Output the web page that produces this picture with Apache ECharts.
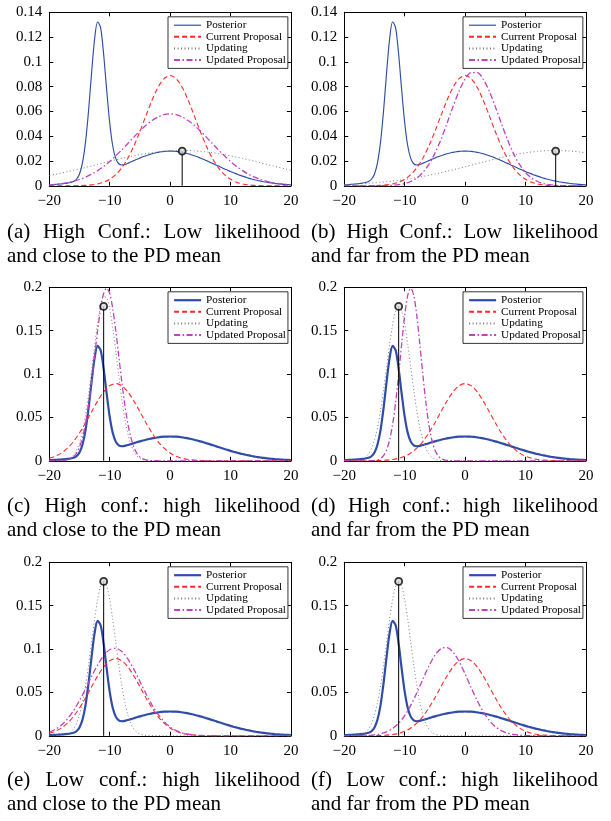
<!DOCTYPE html>
<html>
<head>
<meta charset="utf-8">
<script src="https://cdn.jsdelivr.net/npm/echarts@6/dist/echarts.min.js"></script>
<style>html,body{margin:0;padding:0;background:#fff}#main{width:611px;height:821px}</style>
</head>
<body>
<div id="main"></div>
<script>
// sample positions along the x axis
var xFine = [
  -20, -19.5, -19, -18.5, -18, -17.5, -17, -16.5, -16, -15.5,
  -15, -14.5, -14, -13.5, -13, -12.5, -12, -11.5, -11, -10.5,
  -10, -9.5, -9, -8.5, -8, -7.5, -7, -6.5, -6, -5.5,
  -5, -4.5, -4, -3.5, -3, -2.5, -2, -1.5, -1, -0.5,
  0, 0.5, 1, 1.5, 2, 2.5, 3, 3.5, 4, 4.5,
  5, 5.5, 6, 6.5, 7, 7.5, 8, 8.5, 9, 9.5,
  10, 10.5, 11, 11.5, 12, 12.5, 13, 13.5, 14, 14.5,
  15, 15.5, 16, 16.5, 17, 17.5, 18, 18.5, 19, 19.5,
  20
];
var xCoarse = [
  -20, -19, -18, -17, -16, -15, -14, -13, -12, -11,
  -10, -9, -8, -7, -6, -5, -4, -3, -2, -1,
  0, 1, 2, 3, 4, 5, 6, 7, 8, 9,
  10, 11, 12, 13, 14, 15, 16, 17, 18, 19,
  20
];

// posterior (same in every panel), on xFine
var posterior = [
  0.0008, 0.00095, 0.00113, 0.00134, 0.00157, 0.00184, 0.00218, 0.00263, 0.00346, 0.00529,
  0.00957, 0.0187, 0.0354, 0.0606, 0.0911, 0.1184, 0.1324, 0.1274, 0.106, 0.0773,
  0.0509, 0.0323, 0.0221, 0.0178, 0.0168, 0.0172, 0.0182, 0.0192, 0.0203, 0.0214,
  0.0224, 0.0234, 0.0243, 0.0251, 0.0259, 0.0265, 0.027, 0.0275, 0.0278, 0.0279,
  0.028, 0.0279, 0.0278, 0.0275, 0.027, 0.0265, 0.0259, 0.0251, 0.0243, 0.0234,
  0.0224, 0.0214, 0.0203, 0.0192, 0.0181, 0.017, 0.0159, 0.0147, 0.0136, 0.0126,
  0.0115, 0.0105, 0.0096, 0.0086, 0.0078, 0.007, 0.0062, 0.0055, 0.0049, 0.0043,
  0.0038, 0.0033, 0.0029, 0.0025, 0.0022, 0.0018, 0.0016, 0.0013, 0.0011, 0.001,
  0.0008
];

// current proposals, on xCoarse
var propCenter = [
  0, 0, 0, 0.00002, 0.00006, 0.00015, 0.00034, 0.00074, 0.0015, 0.00288,
  0.00523, 0.00896, 0.0145, 0.0222, 0.0321, 0.0438, 0.0566, 0.069, 0.0795, 0.0865,
  0.089, 0.0865, 0.0795, 0.069, 0.0566, 0.0438, 0.0321, 0.0222, 0.0145, 0.00896,
  0.00523, 0.00288, 0.0015, 0.00074, 0.00034, 0.00015, 0.00006, 0.00002, 0, 0,
  0
];
var propLeft = [
  0.00288, 0.00523, 0.00896, 0.0145, 0.0222, 0.0321, 0.0438, 0.0566, 0.069, 0.0795,
  0.0865, 0.089, 0.0865, 0.0795, 0.069, 0.0566, 0.0438, 0.0321, 0.0222, 0.0145,
  0.00896, 0.00523, 0.00288, 0.0015, 0.00074, 0.00034, 0.00015, 0.00006, 0.00002, 0,
  0, 0, 0, 0, 0, 0, 0, 0, 0, 0,
  0
];

// panel (a), on xCoarse
var updatingA = [
  0.00829, 0.00925, 0.01027, 0.01135, 0.01247, 0.01363, 0.01483, 0.01605, 0.01729, 0.01852,
  0.01974, 0.02093, 0.02208, 0.02318, 0.02421, 0.02515, 0.026, 0.02674, 0.02736, 0.02785,
  0.02821, 0.02843, 0.0285, 0.02843, 0.02821, 0.02785, 0.02736, 0.02674, 0.026, 0.02515,
  0.02421, 0.02318, 0.02208, 0.02093, 0.01974, 0.01852, 0.01729, 0.01605, 0.01483, 0.01363,
  0.01247
];
var updatedA = [
  0.00077, 0.00117, 0.00175, 0.00255, 0.00364, 0.00509, 0.00697, 0.00933, 0.01223, 0.01568,
  0.01967, 0.02416, 0.02903, 0.03414, 0.0393, 0.04427, 0.04878, 0.05262, 0.05555, 0.05738,
  0.058, 0.05738, 0.05555, 0.05262, 0.04878, 0.04427, 0.0393, 0.03414, 0.02903, 0.02416,
  0.01967, 0.01568, 0.01223, 0.00933, 0.00697, 0.00509, 0.00364, 0.00255, 0.00175, 0.00117,
  0.00077
];

// panel (b), on xCoarse
var updatingB = [
  0.00099, 0.00119, 0.00144, 0.00172, 0.00204, 0.00241, 0.00284, 0.00332, 0.00386, 0.00446,
  0.00513, 0.00587, 0.00668, 0.00756, 0.0085, 0.00951, 0.01058, 0.01172, 0.0129, 0.01412,
  0.01537, 0.01665, 0.01793, 0.0192, 0.02045, 0.02166, 0.02282, 0.02391, 0.02491, 0.02582,
  0.02661, 0.02727, 0.0278, 0.02819, 0.02842, 0.0285, 0.02842, 0.02819, 0.0278, 0.02727,
  0.02661
];
var updatedB = [
  0, 0, 0, 0, 0, 0.00003, 0.00007, 0.00018, 0.00041, 0.00088,
  0.0018, 0.00347, 0.00628, 0.01073, 0.01727, 0.02618, 0.03741, 0.05037, 0.0639, 0.07639,
  0.08605, 0.09132, 0.09132, 0.08605, 0.07639, 0.0639, 0.05037, 0.03741, 0.02618, 0.01727,
  0.01073, 0.00628, 0.00347, 0.0018, 0.00088, 0.00041, 0.00018, 0.00007, 0.00003, 0,
  0
];

// panel (c), on xFine
var updatingC = [
  0, 0.00001, 0.00004, 0.00011, 0.00029, 0.0007, 0.00156, 0.00328, 0.00646, 0.01201,
  0.02096, 0.03431, 0.05282, 0.0764, 0.10376, 0.13241, 0.15871, 0.17871, 0.18905, 0.18787,
  0.17539, 0.15382, 0.12673, 0.09808, 0.07131, 0.0487, 0.03126, 0.01883, 0.01066, 0.00568,
  0.00283, 0.00133, 0.00059, 0.00024, 0.00009, 0.00003, 0.00001, 0, 0, 0,
  0, 0, 0, 0, 0, 0, 0, 0, 0, 0,
  0, 0, 0, 0, 0, 0, 0, 0, 0, 0,
  0, 0, 0, 0, 0, 0, 0, 0, 0, 0,
  0, 0, 0, 0, 0, 0, 0, 0, 0, 0,
  0
];
var updatedC = [
  0, 0.00001, 0.00002, 0.00007, 0.00018, 0.00044, 0.00101, 0.00221, 0.00454, 0.00874,
  0.01584, 0.02693, 0.04308, 0.06462, 0.0911, 0.1207, 0.1502, 0.1756, 0.1929, 0.199,
  0.1929, 0.1756, 0.1502, 0.1207, 0.0911, 0.06462, 0.04308, 0.02693, 0.01584, 0.00874,
  0.00454, 0.00221, 0.00101, 0.00044, 0.00018, 0.00007, 0.00002, 0.00001, 0, 0,
  0, 0, 0, 0, 0, 0, 0, 0, 0, 0,
  0, 0, 0, 0, 0, 0, 0, 0, 0, 0,
  0, 0, 0, 0, 0, 0, 0, 0, 0, 0,
  0, 0, 0, 0, 0, 0, 0, 0, 0, 0,
  0
];

// updating curve of panels (d), (e), (f), on xFine
var updatingNear = [
  0.00001, 0.00002, 0.00006, 0.00016, 0.00039, 0.00091, 0.00198, 0.00406, 0.00781, 0.01417,
  0.02409, 0.03854, 0.0578, 0.08149, 0.10796, 0.13435, 0.15709, 0.17252, 0.178, 0.17252,
  0.15709, 0.13435, 0.10796, 0.08149, 0.0578, 0.03854, 0.02409, 0.01417, 0.00781, 0.00406,
  0.00198, 0.00091, 0.00039, 0.00016, 0.00006, 0.00002, 0.00001, 0, 0, 0,
  0, 0, 0, 0, 0, 0, 0, 0, 0, 0,
  0, 0, 0, 0, 0, 0, 0, 0, 0, 0,
  0, 0, 0, 0, 0, 0, 0, 0, 0, 0,
  0, 0, 0, 0, 0, 0, 0, 0, 0, 0,
  0
];
// panel (d), on xFine
var updatedD = [
  0, 0, 0, 0, 0, 0, 0, 0.00001, 0.00004, 0.00013,
  0.00039, 0.00106, 0.00263, 0.00599, 0.0125, 0.0239, 0.04195, 0.06748, 0.09962, 0.13484,
  0.16738, 0.19058, 0.199, 0.19058, 0.16738, 0.13484, 0.09962, 0.06748, 0.04195, 0.0239,
  0.0125, 0.00599, 0.00263, 0.00106, 0.00039, 0.00013, 0.00004, 0.00001, 0, 0,
  0, 0, 0, 0, 0, 0, 0, 0, 0, 0,
  0, 0, 0, 0, 0, 0, 0, 0, 0, 0,
  0, 0, 0, 0, 0, 0, 0, 0, 0, 0,
  0, 0, 0, 0, 0, 0, 0, 0, 0, 0,
  0
];
// panels (e) and (f), on xCoarse
var updatedE = [
  0.00431, 0.00752, 0.01244, 0.0195, 0.02893, 0.04066, 0.05417, 0.06836, 0.08171, 0.09253,
  0.09927, 0.10089, 0.09714, 0.08861, 0.07657, 0.06268, 0.04861, 0.03571, 0.02487, 0.01639,
  0.01024, 0.00606, 0.0034, 0.0018, 0.00091, 0.00043, 0.0002, 0.00008, 0.00003, 0.00001,
  0, 0, 0, 0, 0, 0, 0, 0, 0, 0,
  0
];
var updatedF = [
  0.00001, 0.00003, 0.00008, 0.00021, 0.00051, 0.00113, 0.00237, 0.00463, 0.00848, 0.01452,
  0.02332, 0.03506, 0.04935, 0.06503, 0.08027, 0.09276, 0.10037, 0.1017, 0.09648, 0.08572,
  0.07131, 0.05554, 0.04051, 0.02767, 0.0177, 0.0106, 0.00594, 0.00312, 0.00153, 0.00071,
  0.0003, 0.00012, 0.00005, 0.00002, 0, 0, 0, 0, 0, 0,
  0
];

// stem with circle, one per panel
var stemX = [2, 15, -11, -11, -11, -11];
var stemY = [0.028, 0.028, 0.178, 0.178, 0.178, 0.178];

var yMax = [0.14, 0.14, 0.2, 0.2, 0.2, 0.2];
var yStep = [0.02, 0.02, 0.05, 0.05, 0.05, 0.05];
var xTicks = [-20, 20, 10];

var captions = [
  ['(a) High Conf.: Low likelihood', 'and close to the PD mean'],
  ['(b) High Conf.: Low likelihood', 'and far from the PD mean'],
  ['(c) High conf.: high likelihood', 'and close to the PD mean'],
  ['(d) High conf.: high likelihood', 'and far from the PD mean'],
  ['(e) Low conf.: high likelihood', 'and close to the PD mean'],
  ['(f) Low conf.: high likelihood', 'and far from the PD mean']
];

function pairs(xs, ys) {
  return xs.map(function (x, i) { return [x, ys[i]]; });
}

var panels = [
  {cur: pairs(xCoarse, propCenter), upd: pairs(xCoarse, updatingA), upn: pairs(xCoarse, updatedA), thick: false},
  {cur: pairs(xCoarse, propCenter), upd: pairs(xCoarse, updatingB), upn: pairs(xCoarse, updatedB), thick: false},
  {cur: pairs(xCoarse, propLeft), upd: pairs(xFine, updatingC), upn: pairs(xFine, updatedC), thick: true},
  {cur: pairs(xCoarse, propCenter), upd: pairs(xFine, updatingNear), upn: pairs(xFine, updatedD), thick: true},
  {cur: pairs(xCoarse, propLeft), upd: pairs(xFine, updatingNear), upn: pairs(xCoarse, updatedE), thick: true},
  {cur: pairs(xCoarse, propCenter), upd: pairs(xFine, updatingNear), upn: pairs(xCoarse, updatedF), thick: true}
];

var FONT = 'Liberation Serif';
var BLUE = '#2e4ca8', RED = '#ff2a2a', GRAY = '#7c7c7c', MAGENTA = '#c23fc2';
var colLeft = [49.3, 344.3], plotW = 241.6;
var rowTop = [12.3, 287.3, 562.3], plotH = 173.5;

var grid = [], xAxis = [], yAxis = [], series = [], legend = [], graphic = [];

function fmtX(v) { return v < 0 ? '\u2212' + Math.abs(v) : String(v); }

panels.forEach(function (p, i) {
  var gl = colLeft[i % 2], gt = rowTop[Math.floor(i / 2)];
  grid.push({left: gl, top: gt, width: plotW, height: plotH});

  var axLine = {onZero: false, lineStyle: {color: '#000', width: 1}};
  var tick = {inside: true, length: 4, lineStyle: {color: '#000', width: 1}};
  var lab = {fontFamily: FONT, fontSize: 15, color: '#000'};
  xAxis.push({gridIndex: i, type: 'value', min: xTicks[0], max: xTicks[1], interval: xTicks[2], position: 'bottom',
    axisLine: axLine, axisTick: tick, splitLine: {show: false},
    axisLabel: Object.assign({margin: 8, formatter: fmtX}, lab)});
  xAxis.push({gridIndex: i, type: 'value', min: xTicks[0], max: xTicks[1], interval: xTicks[2], position: 'top',
    axisLine: axLine, axisTick: tick, splitLine: {show: false}, axisLabel: {show: false}});
  yAxis.push({gridIndex: i, type: 'value', min: 0, max: yMax[i], interval: yStep[i], position: 'left',
    axisLine: axLine, axisTick: tick, splitLine: {show: false},
    axisLabel: Object.assign({margin: 7}, lab)});
  yAxis.push({gridIndex: i, type: 'value', min: 0, max: yMax[i], interval: yStep[i], position: 'right',
    axisLine: axLine, axisTick: tick, splitLine: {show: false}, axisLabel: {show: false}});

  var xi = 2 * i, yi = 2 * i;
  var base = {type: 'line', xAxisIndex: xi, yAxisIndex: yi, symbol: 'none', smooth: 0.3, silent: true};
  series.push(Object.assign({}, base, {name: 'Posterior', data: pairs(xFine, posterior),
    lineStyle: {color: BLUE, width: p.thick ? 2.2 : 1.15}, itemStyle: {color: BLUE}}));
  series.push(Object.assign({}, base, {name: 'Current Proposal', data: p.cur,
    lineStyle: {color: RED, width: 1.1, type: [5, 3]}, itemStyle: {color: RED}}));
  series.push(Object.assign({}, base, {name: 'Updating', data: p.upd,
    lineStyle: {color: GRAY, width: 1, type: [1, 2.5]}, itemStyle: {color: GRAY}}));
  series.push(Object.assign({}, base, {name: 'Updated Proposal', data: p.upn,
    lineStyle: {color: MAGENTA, width: 1.3, type: [6, 2.5, 1.5, 2.5]}, itemStyle: {color: MAGENTA}}));
  // stem
  series.push({type: 'line', xAxisIndex: xi, yAxisIndex: yi, symbol: 'none', silent: true, z: 5,
    data: [[stemX[i], 0], [stemX[i], stemY[i]]], lineStyle: {color: '#000', width: 1}});
  series.push({type: 'scatter', xAxisIndex: xi, yAxisIndex: yi, silent: true, z: 6,
    data: [[stemX[i], stemY[i]]], symbol: 'circle', symbolSize: 7,
    itemStyle: {color: '#d8d8d8', borderColor: '#000', borderWidth: 1.8}});

  legend.push({
    orient: 'vertical', left: gl + 118.7, top: gt + 4.5,
    itemWidth: 27, itemHeight: 10, itemGap: 0, padding: [2.6, 2, 2.6, 5],
    backgroundColor: '#fff', borderColor: '#000', borderWidth: 0.8, borderRadius: 0,
    selectedMode: false,
    itemStyle: {opacity: 0},
    textStyle: {fontFamily: FONT, fontSize: 11.2, lineHeight: 11.6, color: '#000'},
    data: [
      {name: 'Posterior', lineStyle: {width: p.thick ? 2.2 : 1.15}},
      'Current Proposal', 'Updating', 'Updated Proposal'
    ]
  });
});

// captions: first line justified, second line left aligned
var capFont = '21px "' + FONT + '"';
var ctx = document.createElement('canvas').getContext('2d');
ctx.font = capFont;
var capLeft = [7, 311], capRight = [300, 598], capY = [232, 506, 780], capLine = 24.5;

captions.forEach(function (c, i) {
  var x0 = capLeft[i % 2], x1 = capRight[i % 2], y = capY[Math.floor(i / 2)];
  var words = c[0].split(' ');
  var widths = words.map(function (w) { return ctx.measureText(w).width; });
  var total = widths.reduce(function (a, b) { return a + b; }, 0);
  var gap = (x1 - x0 - total) / (words.length - 1);
  var x = x0;
  words.forEach(function (w, k) {
    graphic.push({type: 'text', x: x, y: y, silent: true,
      style: {text: w, font: capFont, fill: '#000', verticalAlign: 'middle', textVerticalAlign: 'middle'}});
    x += widths[k] + gap;
  });
  graphic.push({type: 'text', x: x0, y: y + capLine, silent: true,
    style: {text: c[1], font: capFont, fill: '#000', verticalAlign: 'middle', textVerticalAlign: 'middle'}});
});

var chart = echarts.init(document.getElementById('main'), null, {renderer: 'canvas'});
chart.setOption({
  animation: false,
  backgroundColor: '#fff',
  grid: grid,
  xAxis: xAxis,
  yAxis: yAxis,
  legend: legend,
  series: series,
  graphic: graphic
});
</script>
</body>
</html>
